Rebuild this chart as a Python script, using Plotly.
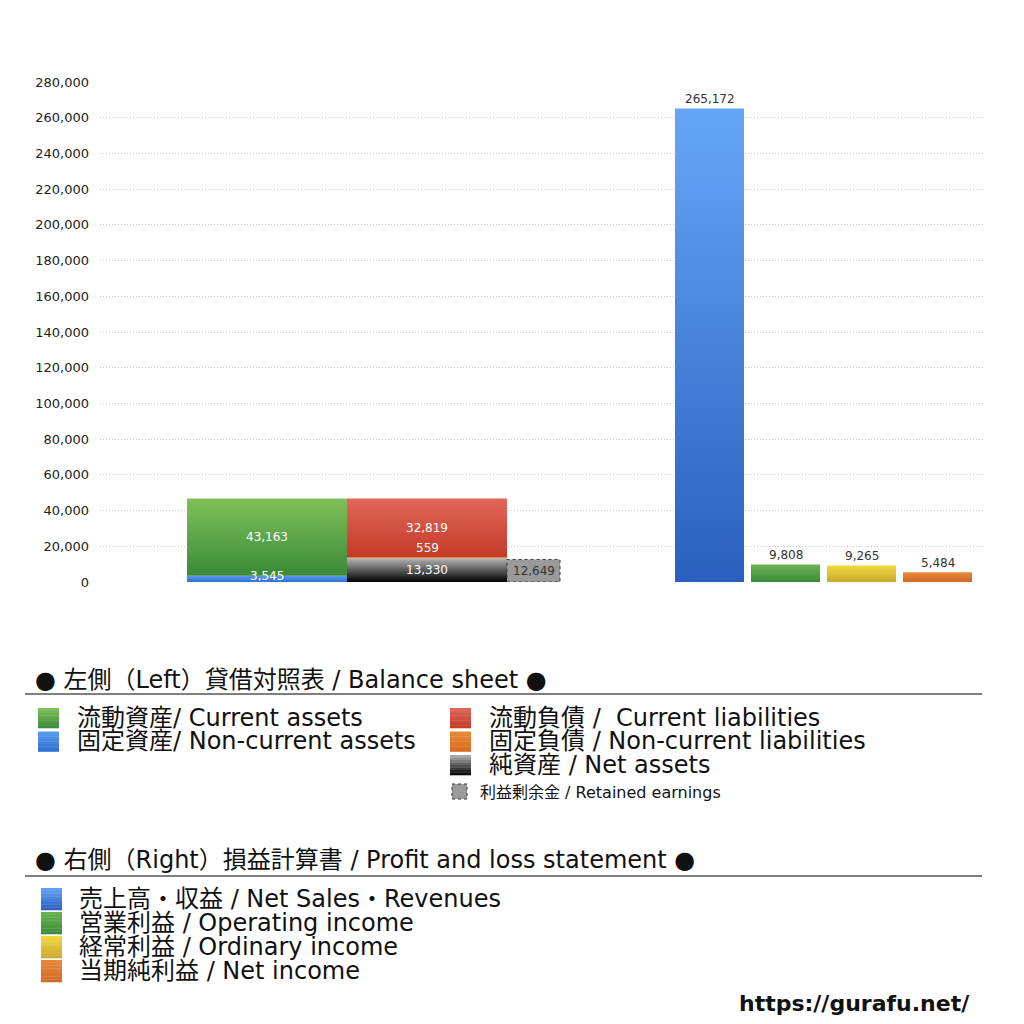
"""Balance sheet and profit/loss bar chart (gurafu.net style)."""

import plotly.graph_objects as go

FONT = "DejaVu Sans, Noto Sans CJK JP"

# ---- data -------------------------------------------------------------
bs_assets_names = ["固定資産/ Non-current assets", "流動資産/ Current assets"]
bs_assets_values = [3545, 43163]

bs_liab_names = [
    "純資産 / Net assets",
    "固定負債 / Non-current liabilities",
    "流動負債 /  Current liabilities",
]
bs_liab_values = [13330, 559, 32819]

retained_name = "利益剰余金 / Retained earnings"
retained_value = 12649

pl_names = [
    "売上高・収益 / Net Sales・Revenues",
    "営業利益 / Operating income",
    "経常利益 / Ordinary income",
    "当期純利益 / Net income",
]
pl_values = [265172, 9808, 9265, 5484]

y_ticks = list(range(0, 280001, 20000))

# ---- styling ----------------------------------------------------------
# (bottom colour, top colour) of the vertical gradients
assets_colors = [("#2f6fd0", "#5a9cf0"), ("#3a8a38", "#80c05a")]
liab_colors = [("#000000", "#b4b4b4"), ("#d86a20", "#e88a3a"), ("#c43a26", "#e0675a")]
retained_color = "#9a9a9a"
pl_colors = [
    ("#2a5fbf", "#66a6f6"),
    ("#3a8a38", "#6cb452"),
    ("#c8a830", "#f2d840"),
    ("#d06a28", "#e88a3a"),
]

# plot area in page pixels (the page body adds an 8px offset)
OFF = 8
PL, PR, PT, PB = 100, 985, 81, 582
Y_MAX = 280000 * (PB - PT) / (PB - 82)

# bar geometry along a pixel-like x axis [0, PR-PL]
ASSET_X, LIAB_X, BS_W = 167, 327, 160
RET_X, RET_W = 433.5, 53
PL_X0, PL_STEP, PL_W = 609.5, 76, 69


def px(x):
    return (x - PL) / (PR - PL)


def py(y):
    return (PB - y) / (PB - PT)


fig = go.Figure()


def add_bar(xc, width, base, value, colors, line=None):
    x0, x1 = xc - width / 2, xc + width / 2
    top = base + value
    fig.add_trace(
        go.Scatter(
            x=[x0, x1, x1, x0, x0],
            y=[base, base, top, top, base],
            mode="lines",
            fill="toself",
            line=line or dict(width=0),
            fillgradient=dict(
                type="vertical",
                start=base,
                stop=top,
                colorscale=[[0, colors[0]], [1, colors[1]]],
            ),
            hoverinfo="skip",
            showlegend=False,
        )
    )
    return top


annotations = []


def label(xc, y, text, color="white", size=12, yanchor="middle", yshift=0):
    annotations.append(
        dict(
            x=xc, y=y, xref="x", yref="y", text=text, showarrow=False,
            yanchor=yanchor, yshift=yshift,
            font=dict(family=FONT, size=size, color=color),
        )
    )


# assets stack
base = 0
for v, c in zip(bs_assets_values, assets_colors):
    top = add_bar(ASSET_X, BS_W, base, v, c)
    if v < 5000:
        label(ASSET_X, base, f"{v:,}", yanchor="bottom", yshift=-3)
    else:
        label(ASSET_X, (base + top) / 2, f"{v:,}")
    base = top

# liabilities + net assets stack
base = 0
for v, c in zip(bs_liab_values, liab_colors):
    top = add_bar(LIAB_X, BS_W, base, v, c)
    if v < 5000:
        label(LIAB_X, top, f"{v:,}", yanchor="bottom")
    else:
        label(LIAB_X, (base + top) / 2, f"{v:,}")
    base = top

# retained earnings
add_bar(RET_X, RET_W, 0, retained_value, (retained_color, retained_color),
        line=dict(color="#333333", width=1, dash="dot"))
label(RET_X, retained_value / 2, f"{retained_value:,}", color="#333333", size=12)

# profit and loss
for i, (v, c) in enumerate(zip(pl_values, pl_colors)):
    xc = PL_X0 + i * PL_STEP
    add_bar(xc, PL_W, 0, v, c)
    label(xc, v, f"{v:,}", color="#333333", size=12, yanchor="bottom", yshift=0)

# ---- custom legend ----------------------------------------------------
shapes = []
TXT = 24


def text_at(x, y, text, size=TXT, color="#111111", xanchor="left"):
    annotations.append(
        dict(
            x=px(x), y=py(y), xref="paper", yref="paper", text=text,
            showarrow=False, xanchor=xanchor, yanchor="middle",
            font=dict(family=FONT, size=size, color=color),
        )
    )


def blend(c, t):
    a = [int(c[0][k:k + 2], 16) for k in (1, 3, 5)]
    b = [int(c[1][k:k + 2], 16) for k in (1, 3, 5)]
    return "#" + "".join(f"{round(p + (q - p) * t):02x}" for p, q in zip(a, b))


def swatch(x0, y0, x1, y1, colors, steps=8):
    h = (y1 - y0) / steps
    for s in range(steps):
        shapes.append(
            dict(
                type="rect", xref="paper", yref="paper", layer="above",
                x0=px(x0), x1=px(x1), y0=py(y0 + s * h), y1=py(y0 + (s + 1) * h + 0.3),
                fillcolor=blend(colors, 1 - (s + 0.5) / steps),
                line=dict(width=0),
            )
        )


def rule(y):
    shapes.append(
        dict(
            type="line", xref="paper", yref="paper",
            x0=px(25), x1=px(982), y0=py(y), y1=py(y),
            line=dict(color="#555555", width=1.5),
        )
    )


text_at(33, 680, "● 左側（Left）貸借対照表 / Balance sheet ●")
rule(694)

left_rows = [(bs_assets_names[1], assets_colors[1]), (bs_assets_names[0], assets_colors[0])]
for r, (name, c) in enumerate(left_rows):
    yc = 718 + r * 23.5
    swatch(38, yc - 10, 59, yc + 10, c)
    text_at(75, yc, name)

right_rows = [(bs_liab_names[2], liab_colors[2]), (bs_liab_names[1], liab_colors[1]),
              (bs_liab_names[0], liab_colors[0])]
for r, (name, c) in enumerate(right_rows):
    yc = 718 + r * 23.5
    swatch(450, yc - 10, 471, yc + 10, c)
    text_at(487, yc, name)

shapes.append(
    dict(
        type="rect", xref="paper", yref="paper",
        x0=px(452), x1=px(467), y0=py(784), y1=py(799),
        fillcolor=retained_color, line=dict(color="#333333", width=1, dash="dot"),
    )
)
text_at(478, 792, retained_name, size=16)

text_at(33, 860, "● 右側（Right）損益計算書 / Profit and loss statement ●")
rule(876)

for r, (name, c) in enumerate(zip(pl_names, pl_colors)):
    yc = 899 + r * 24
    swatch(41, yc - 11, 62, yc + 11, c)
    text_at(77, yc, name)

text_at(972, 1003, "<b>https://gurafu.net/</b>", size=22, color="#111111", xanchor="right")

fig.update_layout(
    width=1016,
    height=1016,
    margin=dict(l=PL - OFF, r=1024 - PR, t=PT - OFF, b=1024 - PB),
    paper_bgcolor="white",
    plot_bgcolor="white",
    showlegend=False,
    font=dict(family=FONT, color="#333333"),
    annotations=annotations,
    shapes=shapes,
    xaxis=dict(range=[0, PR - PL], visible=False, fixedrange=True),
    yaxis=dict(
        range=[0, Y_MAX],
        tickvals=y_ticks,
        ticktext=[f"{v:,}" for v in y_ticks],
        tickfont=dict(family=FONT, size=13, color="#222222"),
        showgrid=True,
        gridcolor="#c8c8c8",
        griddash="1px,2px",
        gridwidth=1,
        zeroline=False,
        showline=False,
        ticks="",
        ticklabelstandoff=10,
        fixedrange=True,
    ),
)

fig.write_html("out.html")
